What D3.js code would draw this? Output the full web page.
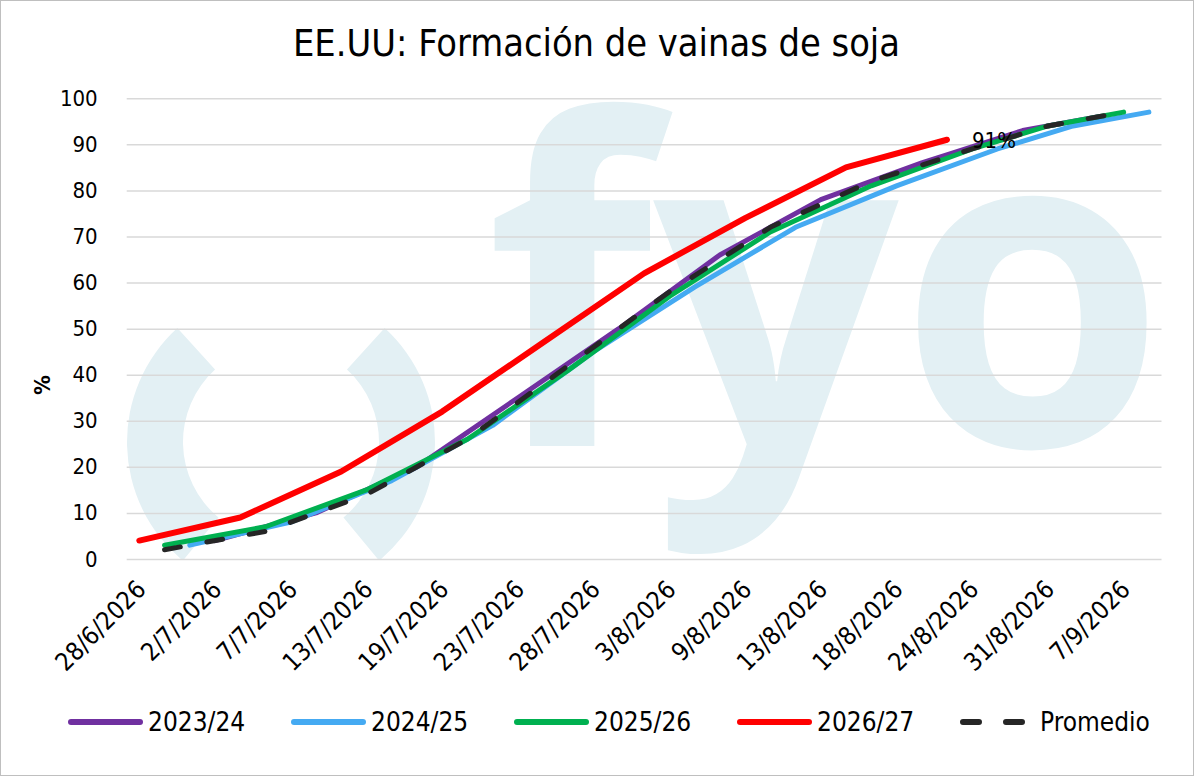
<!DOCTYPE html>
<html>
<head>
<meta charset="utf-8">
<script src="https://cdn.jsdelivr.net/npm/d3@7"></script>
<style>
  body { margin: 0; background: #fff; }
  text { font-family: "DejaVu Sans Condensed", "DejaVu Sans", sans-serif; }
</style>
</head>
<body>
<div id="grafico"></div>
<script>
// Categorias del eje x (fechas de los informes semanales de cada campaña)
var categorias = ["28/6/2026","29/6/2026","30/6/2026","2/7/2026","5/7/2026","6/7/2026","7/7/2026","9/7/2026",
  "12/7/2026","13/7/2026","14/7/2026","16/7/2026","19/7/2026","20/7/2026","21/7/2026","23/7/2026",
  "26/7/2026","27/7/2026","28/7/2026","30/7/2026","2/8/2026","3/8/2026","4/8/2026","6/8/2026",
  "9/8/2026","10/8/2026","11/8/2026","13/8/2026","16/8/2026","17/8/2026","18/8/2026","20/8/2026",
  "23/8/2026","24/8/2026","25/8/2026","27/8/2026","31/8/2026","1/9/2026","3/9/2026","7/9/2026","8/9/2026"];

// Etiquetas visibles del eje x
var etiquetasEje = ["28/6/2026","2/7/2026","7/7/2026","13/7/2026","19/7/2026","23/7/2026","28/7/2026",
  "3/8/2026","9/8/2026","13/8/2026","18/8/2026","24/8/2026","31/8/2026","7/9/2026"];

var ticksY = [0, 10, 20, 30, 40, 50, 60, 70, 80, 90, 100];

// Series
var fechas2023 = ["2/7/2026","9/7/2026","16/7/2026","23/7/2026","30/7/2026","6/8/2026","13/8/2026","20/8/2026","27/8/2026","3/9/2026"];
var valores2023 = [4, 10, 20, 35, 50, 66, 78, 86, 93, 96];

var fechas2024 = ["30/6/2026","7/7/2026","14/7/2026","21/7/2026","28/7/2026","4/8/2026","11/8/2026","18/8/2026","25/8/2026","1/9/2026","8/9/2026"];
var valores2024 = [3, 8, 17, 29, 45, 59, 72, 81, 89, 94, 97];

var fechas2025 = ["29/6/2026","6/7/2026","13/7/2026","20/7/2026","27/7/2026","3/8/2026","10/8/2026","17/8/2026","24/8/2026","31/8/2026","7/9/2026"];
var valores2025 = [3, 7, 15, 26, 41, 57, 71, 81, 89, 94, 97];

var fechas2026 = ["28/6/2026","5/7/2026","12/7/2026","19/7/2026","26/7/2026","2/8/2026","9/8/2026","16/8/2026","23/8/2026"];
var valores2026 = [4, 9, 19, 32, 47, 62, 74, 85, 91];

var fechasPromedio = fechas2025;
var valoresPromedio = [2, 6, 14, 26, 42, 58, 72, 82, 89, 94, 97];

var nombresSeries = ["2023/24", "2024/25", "2025/26", "2026/27", "Promedio"];
var coloresSeries = ["#7030A0", "#45AAF2", "#00B050", "#FF0000", "#262626"];

var series = [
  { nombre: nombresSeries[0], fechas: fechas2023, valores: valores2023 },
  { nombre: nombresSeries[1], fechas: fechas2024, valores: valores2024 },
  { nombre: nombresSeries[2], fechas: fechas2025, valores: valores2025 },
  { nombre: nombresSeries[3], fechas: fechas2026, valores: valores2026 },
  { nombre: nombresSeries[4], fechas: fechasPromedio, valores: valoresPromedio }
];

var width = 1194;
var height = 776;
var margen = { izq: 126.7, der: 1161.5, arriba: 98.3, abajo: 559 };

var svg = d3.select("#grafico")
    .append("svg")
    .attr("width", width)
    .attr("height", height);

// Borde del grafico
svg.append("rect")
    .attr("x", 0.5).attr("y", 0.5)
    .attr("width", width - 1).attr("height", height - 1)
    .attr("fill", "#fff")
    .attr("stroke", "#bfbfbf");

var x = d3.scaleBand()
    .domain(categorias)
    .range([margen.izq, margen.der]);

var y = d3.scaleLinear()
    .domain([0, 100])
    .range([margen.abajo, margen.arriba]);

function posX(fecha) { return x(fecha) + x.bandwidth() / 2; }

// Marca de agua (logo) recortada al area de trazado
svg.append("clipPath").attr("id", "recorte")
  .append("rect")
    .attr("x", margen.izq).attr("y", 85)
    .attr("width", margen.der - margen.izq).attr("height", margen.abajo - 85);

var marca = svg.append("g").attr("clip-path", "url(#recorte)");
var colorMarca = "#e3f0f4";

var arcoLogo = d3.arc().innerRadius(98).outerRadius(154);
marca.append("path")
    .attr("transform", "translate(281,442)")
    .attr("d", arcoLogo({ startAngle: -Math.PI * 0.78, endAngle: -Math.PI * 0.235 }))
    .attr("fill", colorMarca);
marca.append("path")
    .attr("transform", "translate(281,442)")
    .attr("d", arcoLogo({ startAngle: Math.PI * 0.235, endAngle: Math.PI * 0.78 }))
    .attr("fill", colorMarca);
marca.append("text")
    .attr("x", 486).attr("y", 446)
    .attr("textLength", 680)
    .attr("lengthAdjust", "spacingAndGlyphs")
    .style("font-family", "'Open Sans', sans-serif")
    .style("font-weight", "bold")
    .style("font-size", "450px")
    .attr("fill", colorMarca)
    .text("fyo");

// Eje y con lineas de cuadricula
var ejeY = svg.append("g")
    .attr("transform", "translate(" + margen.izq + ",0)")
    .call(d3.axisLeft(y)
        .tickValues(ticksY)
        .tickSize(-(margen.der - margen.izq))
        .tickPadding(29));
ejeY.select(".domain").remove();
ejeY.selectAll("line").attr("stroke", "#d9d9d9").attr("stroke-width", 1.5);
ejeY.selectAll("text")
    .style("font-size", "22px")
    .attr("fill", "#000");

// Eje x
var ejeX = svg.append("g")
    .attr("transform", "translate(0," + margen.abajo + ")")
    .call(d3.axisBottom(x).tickValues(etiquetasEje).tickSize(0));
ejeX.select(".domain").remove();
ejeX.selectAll("text")
    .style("font-size", "25px")
    .attr("fill", "#000")
    .attr("text-anchor", "end")
    .attr("dy", null)
    .attr("y", null)
    .attr("transform", "translate(8,32) rotate(-45)");

// Titulo eje y
svg.append("text")
    .attr("transform", "translate(50,385) rotate(-90)")
    .attr("text-anchor", "middle")
    .style("font-size", "22px")
    .style("font-weight", "bold")
    .text("%");

// Titulo
svg.append("text")
    .attr("x", 293)
    .attr("y", 56)
    .attr("textLength", 607)
    .attr("lengthAdjust", "spacingAndGlyphs")
    .style("font-size", "37px")
    .text("EE.UU: Formación de vainas de soja");

// Lineas
var linea = d3.line()
    .x(function(d) { return posX(d.fecha); })
    .y(function(d) { return y(d.valor); });

svg.selectAll(".serie")
    .data(series)
    .enter()
    .append("path")
    .attr("class", "serie")
    .attr("fill", "none")
    .attr("stroke", function(d, i) { return coloresSeries[i]; })
    .attr("stroke-width", function(d, i) { return i === 3 ? 6 : 5; })
    .attr("stroke-linejoin", "round")
    .attr("stroke-linecap", "round")
    .attr("stroke-dasharray", function(d, i) { return i === 4 ? "16,27" : null; })
    .attr("d", function(d) {
        return linea(d.fechas.map(function(f, j) { return { fecha: f, valor: d.valores[j] }; }));
    });

// Etiqueta del ultimo dato de la campaña actual
var ultimo = fechas2026.length - 1;
svg.append("text")
    .attr("x", posX(fechas2026[ultimo]) + 25)
    .attr("y", y(valores2026[ultimo]) + 8)
    .style("font-size", "22px")
    .text(valores2026[ultimo] + "%");

// Leyenda
var leyenda = svg.selectAll(".leyenda")
    .data(series)
    .enter()
    .append("g")
    .attr("class", "leyenda")
    .attr("transform", function(d, i) { return "translate(" + (68 + i * 223) + ",722)"; });

leyenda.append("line")
    .attr("x1", 3).attr("x2", function(d, i) { return i === 4 ? 68 : 72; })
    .attr("stroke", function(d, i) { return coloresSeries[i]; })
    .attr("stroke-width", 6)
    .attr("stroke-linecap", "round")
    .attr("stroke-dasharray", function(d, i) { return i === 4 ? "16,27" : null; });

leyenda.append("text")
    .attr("x", function(d, i) { return i === 4 ? 80 : 80; })
    .attr("y", 9)
    .style("font-size", "26px")
    .text(function(d) { return d.nombre; });
</script>
</body>
</html>
